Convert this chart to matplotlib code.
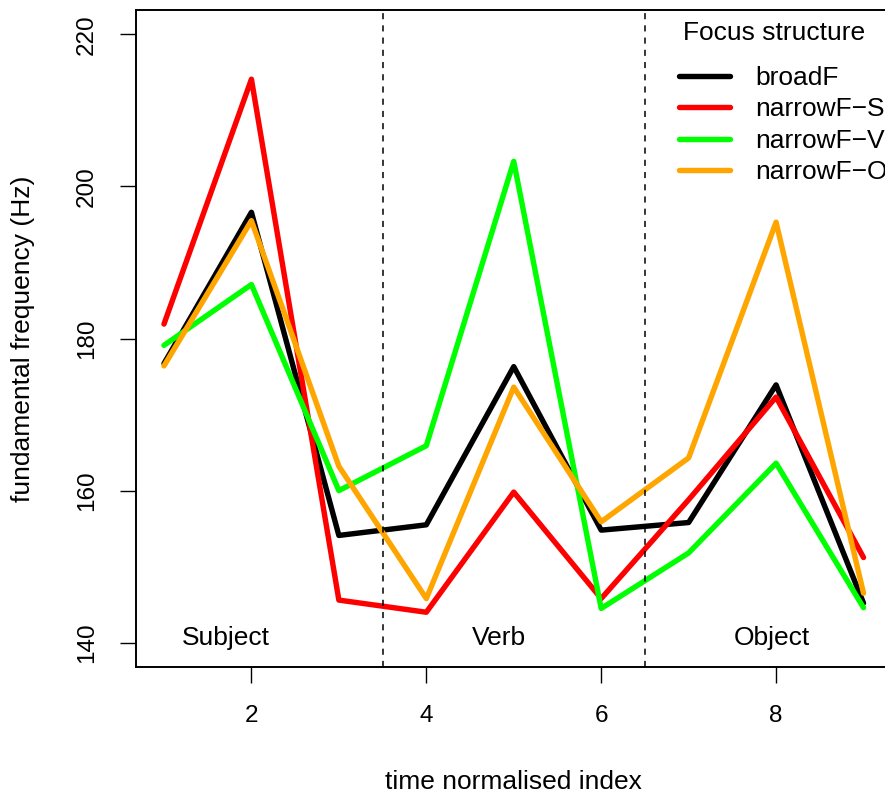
import matplotlib
matplotlib.use("Agg")
import matplotlib.pyplot as plt

plt.rcParams['font.family'] = ['Liberation Sans', 'DejaVu Sans']

# time normalised index
index = [1, 2, 3, 4, 5, 6, 7, 8, 9]

# mean f0 per focus condition (Hz)
broadF = [176.7, 196.6, 154.1, 155.5, 176.3, 154.8, 155.8, 173.9, 145.2]
narrowF_S = [181.9, 214.1, 145.6, 144.0, 159.8, 145.8, 158.8, 172.3, 151.2]
narrowF_V = [179.1, 187.1, 160.0, 165.9, 203.3, 144.5, 151.8, 163.6, 144.6]
narrowF_O = [176.4, 195.5, 163.2, 145.8, 173.6, 155.9, 164.3, 195.3, 146.5]

series_names = ["broadF", "narrowF\u2212S", "narrowF\u2212V", "narrowF\u2212O"]
series_colors = ["black", "#FF0000", "#00FF00", "#FFA500"]

boundaries = [3.5, 6.5]
segment_x = [1.71, 4.83, 7.955]
segment_y = 139.7
segment_labels = ["Subject", "Verb", "Object"]

W, H = 885, 796
fig = plt.figure(figsize=(W / 100, H / 100), dpi=100)
# plot region reaches slightly beyond the right edge, like the original crop
left, right, bottom, top = 136, 891.5, 667, 10
ax = fig.add_axes([left / W, 1 - bottom / H, (right - left) / W, (bottom - top) / H])

for vals, name, col in zip([broadF, narrowF_S, narrowF_V, narrowF_O], series_names, series_colors):
    ax.plot(index, vals, color=col, linewidth=3.9, label=name, solid_joinstyle='round',
            solid_capstyle='round')

for b in boundaries:
    ax.axvline(b, color='black', linestyle=(0, (4, 4)), linewidth=1.1)

for xs, lab in zip(segment_x, segment_labels):
    ax.text(xs, segment_y, lab, ha='center', va='baseline', fontsize=19)

ax.set_xlim(0.68, 9.32)
ax.set_ylim(136.8, 223.2)
ax.set_xticks([2, 4, 6, 8])
ax.set_yticks([140, 160, 180, 200, 220])
ax.tick_params(axis='both', length=11.5, width=1.0, labelsize=17.5, direction='out')
ax.tick_params(axis='x', pad=16)
ax.tick_params(axis='y', pad=16)
for lab in ax.get_yticklabels():
    lab.set_rotation(90)
    lab.set_va('center')

for s in ax.spines.values():
    s.set_linewidth(1.4)

ax.set_xlabel("time normalised index", fontsize=19, va='baseline')
ax.xaxis.set_label_coords(0.5, (bottom - 789) / (bottom - top))
ax.set_ylabel("fundamental frequency (Hz)", fontsize=19, va='center')
ax.yaxis.set_label_coords((23 - left) / (right - left), 0.5)

# legend (no frame), title placed as its own text
fig.text(683 / W, 1 - 33 / H, "Focus structure", fontsize=19, ha='left', va='center')
leg = ax.legend(loc='upper left', bbox_to_anchor=((679 - left) / (right - left), 1 - (66 - top) / (bottom - top)),
                frameon=False, fontsize=19,
                handlelength=1.95, handletextpad=0.95, labelspacing=0.28, borderaxespad=0,
                borderpad=0)

fig.savefig("out.png", dpi=100)
